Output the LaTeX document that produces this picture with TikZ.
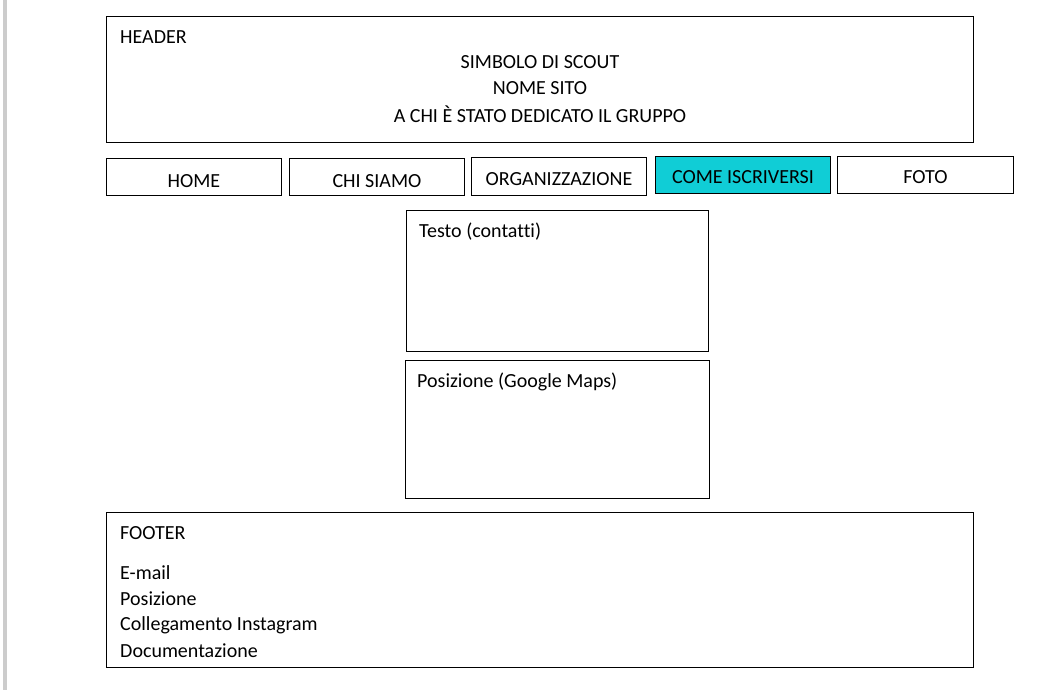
\documentclass[tikz,border=0pt]{standalone}
\usepackage{fontspec}
\setmainfont{Carlito}[Ligatures=NoCommon]
\usepackage{tikz}
\usetikzlibrary{positioning}
\usepackage{xcolor}
\definecolor{activecol}{RGB}{16,205,214}
\definecolor{barcol}{RGB}{204,204,204}
\tikzset{
  frame/.style={draw=black,line width=.9pt,fill=white,anchor=north west,
                inner sep=0pt,minimum width=#1},
  navbtn/.style={frame=175,minimum height=37},
  navactive/.style={navbtn,fill=activecol},
  txt/.style={inner sep=0pt,font=\fontsize{20}{24}\selectfont},
  lefttxt/.style={txt,anchor=west},
}

\begin{document}
\begin{tikzpicture}[x=1pt,y=-1pt]
  \useasboundingbox (0,0) rectangle (1064,690);
  \fill[barcol] (3,0) rectangle (7,690);
  % header
  \node[frame=867,minimum height=126] (header) at (106,16) {};
  \node[lefttxt] (headtitle) at (120,37) {HEADER};
  \node[txt] (simbolo) at (540,62) {SIMBOLO DI SCOUT};
  \node[txt] (nome) at (540,88) {NOME SITO};
  \node[txt] (dedica) at (540,114) {A CHI È STATO DEDICATO IL GRUPPO};
  % menu
  \node[navbtn] (home) at (106,158) {};
  \node[navbtn] (chisiamo) at (289,158) {};
  \node[navbtn,minimum height=38] (organiz) at (471,157) {};
  \node[navactive] (iscriversi) at (655,156) {};
  \node[navbtn,minimum width=176] (foto) at (837,156) {};
  \node[txt] at ([yshift=-4pt]home.center) {HOME};
  \node[txt] at ([yshift=-4pt]chisiamo.center) {CHI SIAMO};
  \node[txt] at ([yshift=-3pt]organiz.center) {ORGANIZZAZIONE};
  \node[txt] at ([yshift=-2pt]iscriversi.center) {COME ISCRIVERSI};
  \node[txt] at ([yshift=-2pt]foto.center) {FOTO};
  % contenuto
  \node[frame=302,minimum height=141] (testo) at (406,210) {};
  \node[lefttxt] (testolbl) at (419,232) {Testo (contatti)};
  \node[frame=304,minimum height=138] (mappa) at (405,360) {};
  \node[lefttxt] (mappalbl) at (417,382) {Posizione (Google Maps)};
  % footer
  \node[frame=867,minimum height=155] (footer) at (106,512) {};
  \node[lefttxt] (foottitle) at (120,533) {FOOTER};
  \node[lefttxt] (email) at (120,573) {E-mail};
  \node[lefttxt] (posiz) at (120,599) {Posizione};
  \node[lefttxt] (insta) at (120,625) {Collegamento Instagram};
  \node[lefttxt] (docum) at (120,651) {Documentazione};
\end{tikzpicture}
\end{document}
